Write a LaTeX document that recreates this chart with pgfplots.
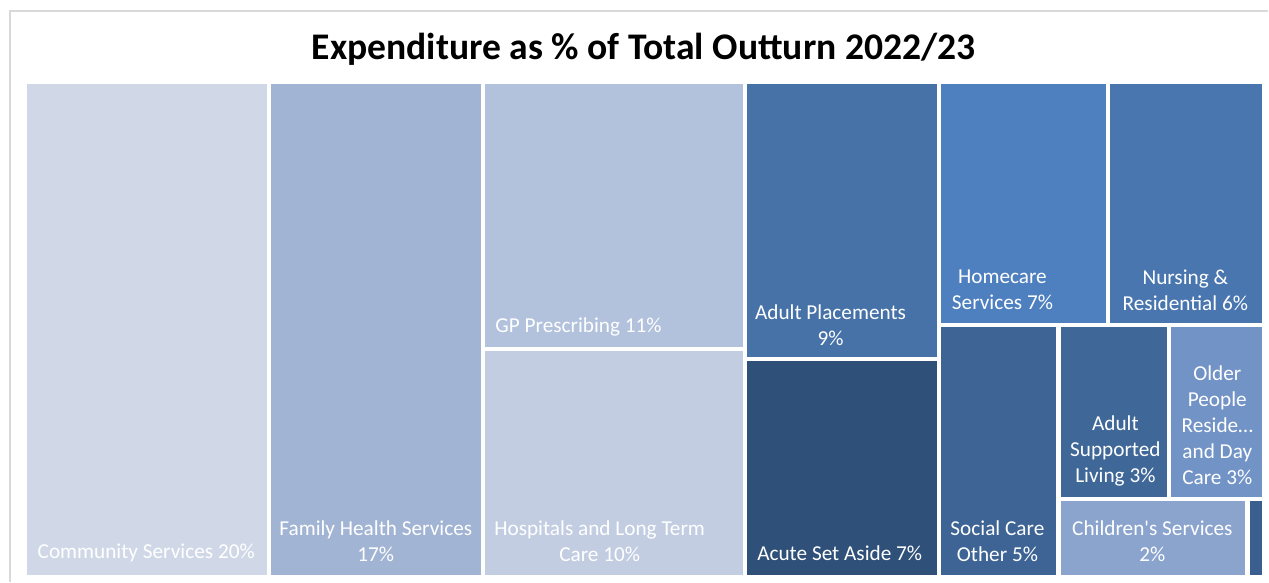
\documentclass[border=0pt]{standalone}
\usepackage{pgfplots}
\pgfplotsset{compat=1.18}
\usepackage{fontspec}
\setmainfont{Carlito}[Ligatures=TeXOff]

% tile colours
\definecolor{cComm}{HTML}{D0D8E8}
\definecolor{cFam}{HTML}{A2B4D4}
\definecolor{cGP}{HTML}{B2C2DC}
\definecolor{cHosp}{HTML}{C2CDE2}
\definecolor{cAdPl}{HTML}{4672A8}
\definecolor{cAcute}{HTML}{2F5078}
\definecolor{cHome}{HTML}{4E80BF}
\definecolor{cNurs}{HTML}{4A76B0}
\definecolor{cSoc}{HTML}{3D6494}
\definecolor{cAdSup}{HTML}{3F6898}
\definecolor{cOld}{HTML}{7293C6}
\definecolor{cChild}{HTML}{8BA4CE}
\definecolor{cTiny}{HTML}{3A5E8E}
\definecolor{frame}{HTML}{D9D9D9}

\tikzset{lbl/.style={text=white, font=\fontsize{6.05}{7.4}\selectfont, align=center, inner sep=0pt}}

\begin{document}
\begin{tikzpicture}
\begin{axis}[
  width=12.69cm, height=5.82cm, scale only axis,
  xmin=0, xmax=1269, ymin=0, ymax=582,
  y dir=reverse, hide axis, clip=false,
]
% keep the page the size of the whole canvas
\path (axis cs:0,0) rectangle (axis cs:1269,582);
% outer chart frame
\draw[frame, line width=0.4pt] (axis cs:10,582) -- (axis cs:10,11) -- (axis cs:1269,11);

% treemap tiles (pixel corners)
\addplot[fill=cComm, draw=none]  coordinates {(27,84)(267,84)(267,575)(27,575)} --cycle;
\addplot[fill=cFam, draw=none]   coordinates {(271,84)(481,84)(481,575)(271,575)} --cycle;
\addplot[fill=cGP, draw=none]    coordinates {(485,84)(743,84)(743,347)(485,347)} --cycle;
\addplot[fill=cHosp, draw=none]  coordinates {(485,351)(743,351)(743,575)(485,575)} --cycle;
\addplot[fill=cAdPl, draw=none]  coordinates {(747,84)(938,84)(938,357)(747,357)} --cycle;
\addplot[fill=cAcute, draw=none] coordinates {(747,361)(938,361)(938,575)(747,575)} --cycle;
\addplot[fill=cHome, draw=none]  coordinates {(942,84)(1107,84)(1107,323)(942,323)} --cycle;
\addplot[fill=cNurs, draw=none]  coordinates {(1111,84)(1263,84)(1263,323)(1111,323)} --cycle;
\addplot[fill=cSoc, draw=none]   coordinates {(942,327)(1057,327)(1057,575)(942,575)} --cycle;
\addplot[fill=cAdSup, draw=none] coordinates {(1062,327)(1168,327)(1168,497)(1062,497)} --cycle;
\addplot[fill=cOld, draw=none]   coordinates {(1172,327)(1263,327)(1263,497)(1172,497)} --cycle;
\addplot[fill=cChild, draw=none] coordinates {(1062,501)(1246,501)(1246,575)(1062,575)} --cycle;
\addplot[fill=cTiny, draw=none]  coordinates {(1251,501)(1263,501)(1263,575)(1251,575)} --cycle;

% title
\node[font=\fontsize{10.7}{13}\selectfont\bfseries] at (axis cs:644,49) {Expenditure as \% of Total Outturn 2022/23};

% labels
\node[lbl, anchor=west] at (axis cs:37,553) {Community Services 20\%};
\node[lbl] at (axis cs:376,541) {Family Health Services\\17\%};
\node[lbl, anchor=west] at (axis cs:495,327) {GP Prescribing 11\%};
\node[lbl] at (axis cs:600,541) {Hospitals and Long Term\\Care 10\%};
\node[lbl] at (axis cs:831,325) {Adult Placements\\9\%};
\node[lbl, anchor=west] at (axis cs:757,553) {Acute Set Aside 7\%};
\node[lbl] at (axis cs:1003,290) {Homecare\\Services 7\%};
\node[lbl] at (axis cs:1186,290) {Nursing \&\\Residential 6\%};
\node[lbl] at (axis cs:998,541) {Social Care\\Other 5\%};
\node[lbl] at (axis cs:1116,451) {Adult\\Supported\\Living 3\%};
\node[lbl] at (axis cs:1218,425) {Older\\People\\Reside\dots\\and Day\\Care 3\%};
\node[lbl] at (axis cs:1153,541) {Children's Services\\2\%};
\end{axis}
\end{tikzpicture}
\end{document}
